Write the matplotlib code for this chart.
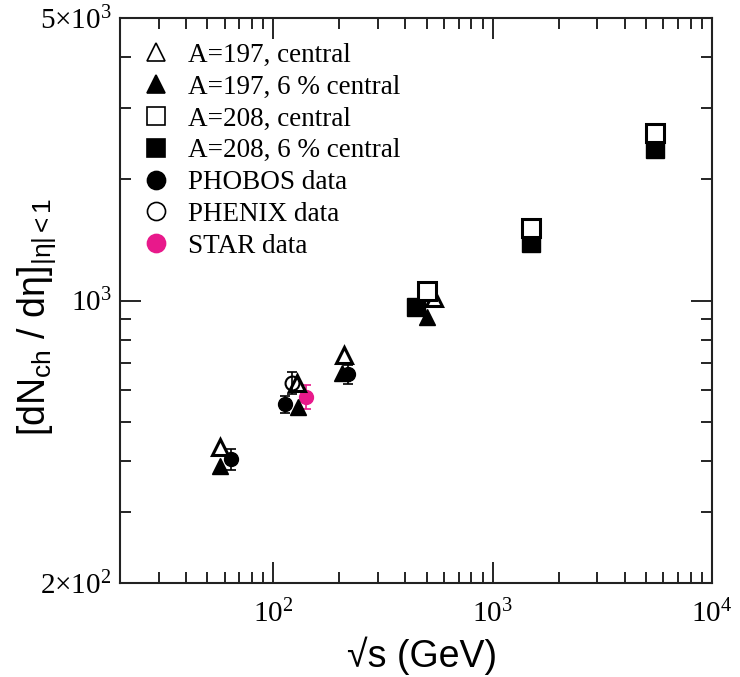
import matplotlib
matplotlib.use('Agg')
import matplotlib.pyplot as plt
from matplotlib.lines import Line2D
from matplotlib.ticker import FixedLocator, NullFormatter

plt.rcParams['font.family'] = ['Liberation Serif', 'DejaVu Serif']
plt.rcParams['mathtext.fontset'] = 'stix'
plt.rcParams['mathtext.default'] = 'regular'

# model points
au_cen_x = [57, 128, 209, 541]
au_cen_y = [435, 624, 733, 1013]
au_6_x = [57, 130, 206, 503]
au_6_y = [389, 546, 661, 912]
pb_cen_x = [500, 1500, 5500]
pb_cen_y = [1058, 1510, 2595]
pb_6_x = [445, 1500, 5500]
pb_6_y = [966, 1386, 2368]

# data points
phobos_x = [64.3, 113, 220]
phobos_y = [405, 554, 657]
phobos_err = [25, 28, 35]
phenix_x = [122]
phenix_y = [626]
phenix_err = [38]
star_x = [141]
star_y = [578]
star_err = [40]

labels = ['A=197, central', 'A=197, 6 % central', 'A=208, central', 'A=208, 6 % central',
          'PHOBOS data', 'PHENIX data', 'STAR data']

pink = '#e8198b'

fig = plt.figure(figsize=(7.4, 6.77), dpi=100)
ax = fig.add_axes([0.1622, 0.1388, 0.8, 0.8346])

# error bars
eb = dict(fmt='none', capsize=3.5, elinewidth=1.2, capthick=1.2, zorder=2)
ax.errorbar(phobos_x, phobos_y, yerr=phobos_err, ecolor='black', **eb)
ax.errorbar(phenix_x, phenix_y, yerr=phenix_err, ecolor='black', **eb)
ax.errorbar(star_x, star_y, yerr=star_err, ecolor=pink, **eb)

ax.plot(au_cen_x, au_cen_y, '^', ms=12, mfc='none', mec='black', mew=2.2, zorder=4)
ax.plot(au_6_x, au_6_y, '^', ms=12, color='black', zorder=4)
ax.plot(pb_cen_x, pb_cen_y, 's', ms=12.5, mfc='white', mec='black', mew=2.2, zorder=5)
ax.plot(pb_6_x, pb_6_y, 's', ms=12.5, color='black', zorder=4)
ax.plot(phobos_x, phobos_y, 'o', ms=10, color='black', zorder=3)
ax.plot(phenix_x, phenix_y, 'o', ms=10, mfc='none', mec='black', mew=1.5, zorder=3)
ax.plot(star_x, star_y, 'o', ms=10, color=pink, zorder=3)

ax.set_xscale('log')
ax.set_yscale('log')
ax.set_xlim(20, 1e4)
ax.set_ylim(200, 5000)

ax.yaxis.set_major_locator(FixedLocator([200, 1000, 5000]))
ax.set_yticklabels([r'2$\times$10$^2$', r'10$^3$', r'5$\times$10$^3$'])
ax.yaxis.set_minor_locator(FixedLocator([300, 400, 500, 600, 700, 800, 900,
                                         2000, 3000, 4000]))
ax.yaxis.set_minor_formatter(NullFormatter())
ax.xaxis.set_major_locator(FixedLocator([100, 1000, 10000]))
ax.set_xticklabels([r'10$^2$', r'10$^3$', r'10$^4$'])
ax.xaxis.set_minor_locator(FixedLocator([30, 40, 50, 60, 70, 80, 90,
                                         200, 300, 400, 500, 600, 700, 800, 900,
                                         2000, 3000, 4000, 5000, 6000, 7000, 8000, 9000]))
ax.xaxis.set_minor_formatter(NullFormatter())

ax.tick_params(which='both', direction='in', top=True, right=True, labelsize=21,
               width=1.2)
ax.tick_params(which='major', length=15)
ax.tick_params(which='minor', length=8)
ax.tick_params(axis='x', which='major', pad=12)
ax.tick_params(axis='y', which='major', pad=6)
for s in ax.spines.values():
    s.set_linewidth(1.5)
    s.set_color('#222222')

sans = ['Liberation Sans', 'DejaVu Sans']
ax.set_xlabel('\u221as (GeV)', fontsize=27, family=sans)
ax.xaxis.set_label_coords(0.51, -0.095)
ax.set_ylabel('[dN$_{ch}$ / d\u03b7]$_{|\u03b7|<1}$', fontsize=27, family=sans)
ax.yaxis.set_label_coords(-0.105, 0.47)

# legend proxies (marker styles only)
lk = dict(ls='none', ms=13, mew=1.2)
handles = [
    Line2D([], [], marker='^', mfc='white', mec='black', **lk),
    Line2D([], [], marker='^', color='black', **lk),
    Line2D([], [], marker='s', mfc='white', mec='black', **lk),
    Line2D([], [], marker='s', color='black', **lk),
    Line2D([], [], marker='o', color='black', **lk),
    Line2D([], [], marker='o', mfc='white', mec='black', **lk),
    Line2D([], [], marker='o', color=pink, **lk),
]
ax.legend(handles, labels, loc='upper left', frameon=False, fontsize=19.5,
          handlelength=0.8, handletextpad=0.75, labelspacing=0.25,
          borderaxespad=0.0, bbox_to_anchor=(0.025, 0.975))

fig.savefig('out.png', dpi=100)
